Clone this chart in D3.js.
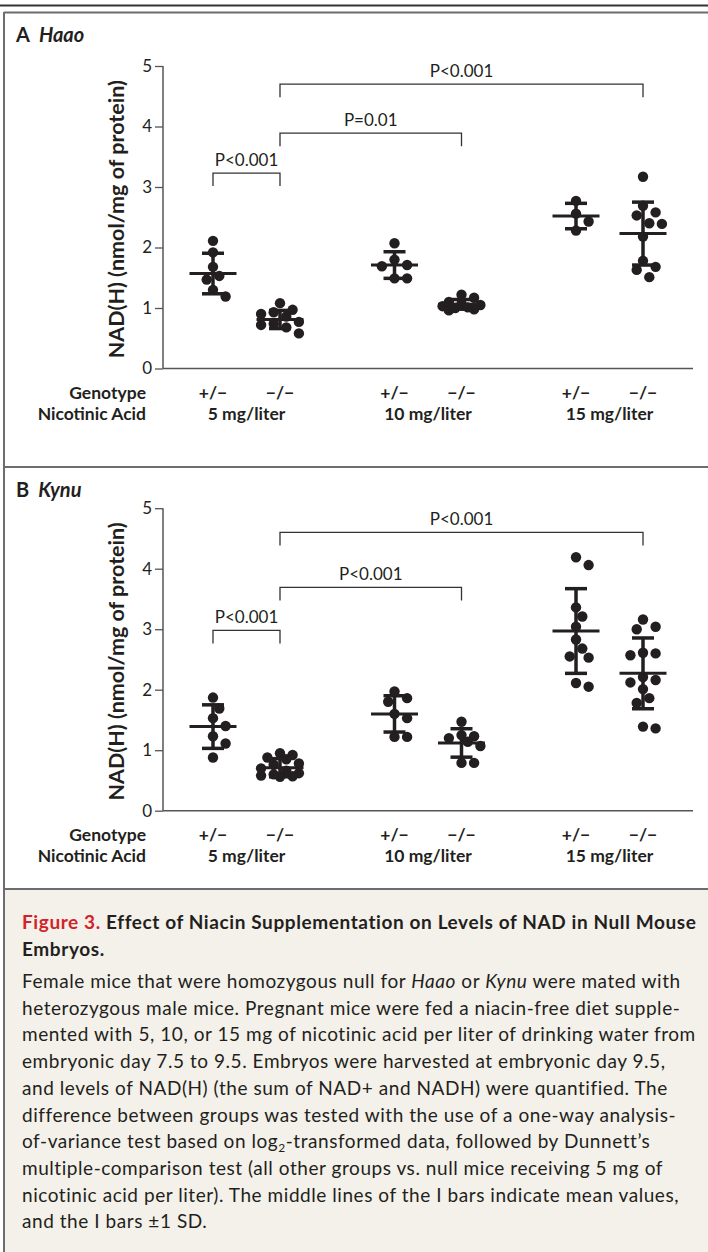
<!DOCTYPE html>
<html>
<head>
<meta charset="utf-8">
<script src="https://d3js.org/d3.v7.min.js"></script>
<style>
  body { margin: 0; background: #fff; }
  svg text { font-family: Lato, "Open Sans", sans-serif; fill: #231f20; }
</style>
</head>
<body>
<svg id="fig" width="708" height="1252"></svg>
<script>
// ---- data ----
var doses = ["5 mg/liter", "10 mg/liter", "15 mg/liter"];
var genotypes = ["+/\u2212", "\u2212/\u2212"];
var yTicks = [0, 1, 2, 3, 4, 5];

// Haao, NAD(H) per embryo (nmol/mg of protein), group order: dose x genotype
var haao5Het = [2.11, 1.92, 1.68, 1.53, 1.47, 1.30, 1.19];
var haao5Null = [1.08, 0.97, 0.93, 0.90, 0.86, 0.77, 0.74, 0.72, 0.68, 0.58];
var haao10Het = [2.07, 1.80, 1.69, 1.71, 1.49, 1.49];
var haao10Null = [1.22, 1.17, 1.10, 1.07, 1.05, 1.03, 1.01, 1.00, 0.98, 0.96];
var haao15Het = [2.77, 2.56, 2.43, 2.28];
var haao15Null = [3.17, 2.69, 2.58, 2.53, 2.40, 2.39, 2.18, 1.78, 1.68, 1.63, 1.51];
var haaoMean = [1.57, 0.81, 1.71, 1.06, 2.52, 2.23];
var haaoSD = [0.335, 0.15, 0.22, 0.08, 0.21, 0.52];
var haaoP = ["P<0.001", "P=0.01", "P<0.001"];
var haaoBracketLevel = [3.23, 3.89, 4.70];

// Kynu
var kynu5Het = [1.87, 1.69, 1.53, 1.40, 1.23, 1.11, 0.88];
var kynu5Null = [0.95, 0.92, 0.88, 0.85, 0.78, 0.76, 0.70, 0.66, 0.62, 0.60, 0.58, 0.57, 0.56];
var kynu10Het = [1.97, 1.86, 1.80, 1.60, 1.53, 1.22, 1.22];
var kynu10Null = [1.47, 1.25, 1.23, 1.20, 1.14, 1.07, 0.79, 0.79];
var kynu15Het = [4.19, 4.06, 3.36, 3.21, 3.04, 2.83, 2.68, 2.55, 2.53, 2.11, 2.05];
var kynu15Null = [3.16, 3.04, 3.00, 2.61, 2.60, 2.57, 2.21, 2.16, 2.12, 2.01, 1.86, 1.78, 1.39, 1.36];
var kynuMean = [1.39, 0.71, 1.60, 1.12, 2.97, 2.27];
var kynuSD = [0.36, 0.15, 0.30, 0.235, 0.70, 0.585];
var kynuP = ["P<0.001", "P<0.001", "P<0.001"];
var kynuBracketLevel = [2.98, 3.69, 4.60];

var bracketPairs = [[0, 1], [1, 3], [1, 5]];

var panels = [
  { letter: "A", gene: "Haao", top: 0, groups: [haao5Het, haao5Null, haao10Het, haao10Null, haao15Het, haao15Null],
    mean: haaoMean, sd: haaoSD, p: haaoP, level: haaoBracketLevel },
  { letter: "B", gene: "Kynu", top: 442.2, groups: [kynu5Het, kynu5Null, kynu10Het, kynu10Null, kynu15Het, kynu15Null],
    mean: kynuMean, sd: kynuSD, p: kynuP, level: kynuBracketLevel }
];

var svg = d3.select("#fig");
var ink = "#231f20";

// frame
svg.append("rect").attr("x", 5).attr("y", 889).attr("width", 703).attr("height", 363).attr("fill", "#f4f1ea");
svg.append("line").attr("x1", 0).attr("x2", 708).attr("y1", 5.5).attr("y2", 5.5).attr("stroke", "#333").attr("stroke-width", 2);
svg.append("line").attr("x1", 4).attr("x2", 708).attr("y1", 12.5).attr("y2", 12.5).attr("stroke", "#6d6d6d").attr("stroke-width", 2);
svg.append("line").attr("x1", 4).attr("x2", 4).attr("y1", 12).attr("y2", 1252).attr("stroke", "#6d6d6d").attr("stroke-width", 2);
svg.append("line").attr("x1", 4).attr("x2", 708).attr("y1", 467).attr("y2", 467).attr("stroke", "#6d6d6d").attr("stroke-width", 2);
svg.append("line").attr("x1", 4).attr("x2", 708).attr("y1", 889).attr("y2", 889).attr("stroke", "#6d6d6d").attr("stroke-width", 2);

// x positions: dose band + genotype offset
var xDose = d3.scalePoint().domain(doses).range([163, 693]).padding(0.46);
var xGeno = d3.scalePoint().domain(genotypes).range([-33.5, 33.5]);
function gx(i) { return xDose(doses[Math.floor(i / 2)]) + xGeno(genotypes[i % 2]); }

// prism-like scatter: spread dots sideways in fixed steps, overlap when the column is full
function swarm(values, cx, y) {
  var placed = [];
  var minD = 11, step = 6.3, offs = [0, 1, -1, 2, -2, 3, -3];
  values.slice().sort(function(a, b) { return b - a; }).forEach(function(v) {
    var py = y(v), best = null, bestD = -1;
    for (var k = 0; k < offs.length; k++) {
      var px = cx + offs[k] * step;
      var d = d3.min(placed, function(p) { return Math.hypot(p.x - px, p.y - py); });
      if (d === undefined) d = Infinity;
      if (d >= minD) { best = px; break; }
      if (d > bestD) { bestD = d; best = px; }
    }
    placed.push({ x: best, y: py });
  });
  return placed;
}

panels.forEach(function(pn) {
  var g = svg.append("g").attr("transform", "translate(0," + pn.top + ")");
  var y = d3.scaleLinear().domain([0, 5]).range([368.5, 66]);

  // label
  var lab = g.append("text").attr("x", 16).attr("y", pn.letter === "A" ? 42 : 55)
    .style("font-size", "20px").style("font-weight", "bold");
  lab.append("tspan").text(pn.letter);
  lab.append("tspan").attr("dx", 9).style("font-style", "italic").text(pn.gene);

  // y axis
  var yAxis = g.append("g").attr("transform", "translate(163,0)")
    .call(d3.axisLeft(y).tickValues(yTicks).tickSize(8).tickPadding(3).tickFormat(d3.format("d")));
  yAxis.select(".domain").attr("stroke", "#555").attr("stroke-width", 1.5).attr("d", "M0,66V368.5");
  yAxis.selectAll(".tick line").attr("stroke", "#555").attr("stroke-width", 1.3);
  yAxis.selectAll(".tick text").style("font-size", "17px").style("font-family", "Lato, sans-serif").attr("fill", "#333");

  // x axis line
  g.append("line").attr("x1", 163).attr("x2", 693).attr("y1", y(0)).attr("y2", y(0))
    .attr("stroke", "#555").attr("stroke-width", 1.5);

  g.append("text").attr("transform", "translate(124," + ((y(0) + y(5)) / 2 + 2) + ") rotate(-90)")
    .attr("text-anchor", "middle").style("font-size", "21.5px").style("font-weight", "bold")
    .text("NAD(H) (nmol/mg of protein)");

  // brackets
  bracketPairs.forEach(function(bp, j) {
    var x1 = gx(bp[0]), x2 = gx(bp[1]), by = y(pn.level[j]);
    g.append("path").attr("d", "M" + x1 + "," + (by + 13) + "V" + by + "H" + x2 + "V" + (by + 13))
      .attr("fill", "none").attr("stroke", "#333").attr("stroke-width", 1.3);
    g.append("text").attr("x", (x1 + x2) / 2).attr("y", by - 7).attr("text-anchor", "middle")
      .style("font-size", "17px").attr("fill", "#333").text(pn.p[j]);
  });

  // dots + mean/SD bars
  pn.groups.forEach(function(vals, i) {
    var cx = gx(i);
    g.selectAll(null).data(swarm(vals, cx, y)).enter().append("circle")
      .attr("cx", function(d) { return d.x; }).attr("cy", function(d) { return d.y; })
      .attr("r", 5.2).attr("fill", ink);
    var m = pn.mean[i], s = pn.sd[i];
    g.append("line").attr("x1", cx).attr("x2", cx).attr("y1", y(m + s)).attr("y2", y(m - s))
      .attr("stroke", ink).attr("stroke-width", 3.5);
    [m + s, m - s].forEach(function(v) {
      g.append("line").attr("x1", cx - 11).attr("x2", cx + 11).attr("y1", y(v)).attr("y2", y(v))
        .attr("stroke", ink).attr("stroke-width", 3.5);
    });
    g.append("line").attr("x1", cx - 23.5).attr("x2", cx + 23.5).attr("y1", y(m)).attr("y2", y(m))
      .attr("stroke", ink).attr("stroke-width", 3);
  });

  // x category labels
  g.append("text").attr("x", 146).attr("y", 399).attr("text-anchor", "end")
    .style("font-size", "17.5px").style("font-weight", "bold").text("Genotype");
  g.append("text").attr("x", 146).attr("y", 420).attr("text-anchor", "end")
    .style("font-size", "17.5px").style("font-weight", "bold").text("Nicotinic Acid");
  d3.range(6).forEach(function(i) {
    g.append("text").attr("x", gx(i)).attr("y", 399).attr("text-anchor", "middle")
      .style("font-size", "17.5px").style("font-weight", "bold").text(genotypes[i % 2]);
  });
  doses.forEach(function(d) {
    g.append("text").attr("x", xDose(d)).attr("y", 420).attr("text-anchor", "middle")
      .style("font-size", "17.5px").style("font-weight", "bold").text(d);
  });
});

// caption
var title = svg.append("text").attr("x", 22).attr("y", 929).style("font-size", "19px")
  .style("font-weight", "bold").style("letter-spacing", "0.6px");
title.append("tspan").style("fill", "#d2232a").text("Figure 3.");
title.append("tspan").text(" Effect of Niacin Supplementation on Levels of NAD in Null Mouse");
svg.append("text").attr("x", 22).attr("y", 956).style("font-size", "19px").style("font-weight", "bold")
  .style("letter-spacing", "0.6px").text("Embryos.");

var captionLines = [
  [["Female mice that were homozygous null for ", ""], ["Haao", "i"], [" or ", ""], ["Kynu", "i"], [" were mated with", ""]],
  [["heterozygous male mice. Pregnant mice were fed a niacin-free diet supple-", ""]],
  [["mented with 5, 10, or 15 mg of nicotinic acid per liter of drinking water from", ""]],
  [["embryonic day 7.5 to 9.5. Embryos were harvested at embryonic day 9.5,", ""]],
  [["and levels of NAD(H) (the sum of NAD+ and NADH) were quantified. The", ""]],
  [["difference between groups was tested with the use of a one-way analysis-", ""]],
  [["of-variance test based on log", ""], ["2", "sub"], ["-transformed data, followed by Dunnett\u2019s", ""]],
  [["multiple-comparison test (all other groups vs. null mice receiving 5 mg of", ""]],
  [["nicotinic acid per liter). The middle lines of the I bars indicate mean values,", ""]],
  [["and the I bars \u00b11 SD.", ""]]
];
captionLines.forEach(function(line, k) {
  var t = svg.append("text").attr("x", 22).attr("y", 988 + k * 26.7).style("font-size", "19px")
    .style("letter-spacing", "0.55px").attr("fill", "#333");
  line.forEach(function(seg) {
    var ts = t.append("tspan").text(seg[0]);
    if (seg[1] === "i") ts.style("font-style", "italic");
    if (seg[1] === "sub") ts.attr("dy", 4).style("font-size", "12px");
    if (seg[1] === "" && k === 6 && seg[0].charAt(0) === "-") ts.attr("dy", -4);
  });
});
</script>
</body>
</html>
